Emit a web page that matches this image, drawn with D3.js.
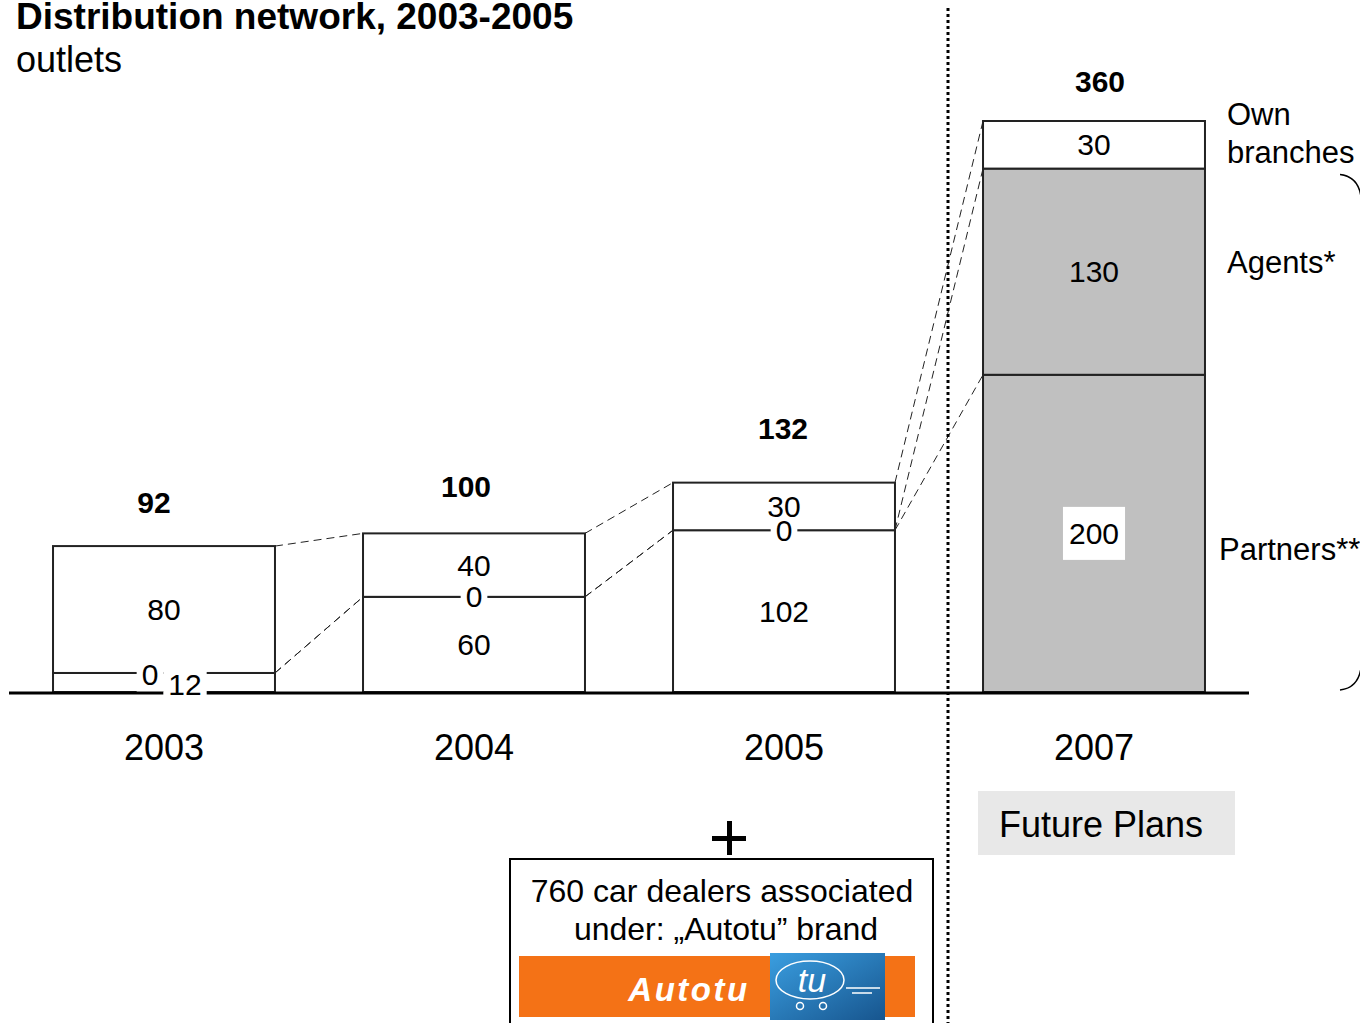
<!DOCTYPE html>
<html>
<head>
<meta charset="utf-8">
<script src="https://cdn.jsdelivr.net/npm/d3@7"></script>
<style>
  html, body { margin: 0; padding: 0; background: #fff; overflow: hidden; }
  svg { display: block; font-family: "Liberation Sans", Arial, sans-serif; }
</style>
</head>
<body>
<svg id="chart" width="1360" height="1023"></svg>
<script>
// Outlets by channel, 2003-2005 actuals and 2007 plan
const years = ["2003", "2004", "2005", "2007"];
const partners = [12, 60, 102, 200];
const agents = [0, 0, 0, 130];
const ownBranches = [80, 40, 30, 30];
const totals = [92, 100, 132, 360];
const plannedYears = ["2007"];
const seriesKeys = ["partners", "agents", "own"];
const seriesLabels = ["Partners**", "Agents*", "Own branches"];

const rows = years.map((y, i) => ({ year: y, partners: partners[i], agents: agents[i], own: ownBranches[i], total: totals[i] }));

const svg = d3.select("#chart");
const W = 1360, H = 1023;

const x = d3.scaleBand().domain(years).range([9, 1249]).paddingInner(0.284).paddingOuter(0.142);
const y = d3.scaleLinear().domain([0, 360]).range([692, 121]);

// hand-placed nudges for the total labels above each bar
const totalNudge = [[-10, -33], [-8, -36], [-1, -44], [6, -29]];

const stacked = d3.stack().keys(seriesKeys)(rows);

// Title
svg.append("text").attr("x", 16).attr("y", 29).attr("font-size", 37).attr("font-weight", "bold")
  .text("Distribution network, 2003-2005");
svg.append("text").attr("x", 16).attr("y", 72).attr("font-size", 36).text("outlets");

// Dashed connectors between consecutive bars, one per cumulative boundary
const connectors = svg.append("g").attr("fill", "none").attr("stroke", "#222")
  .attr("stroke-width", 1).attr("stroke-dasharray", "8,5");
for (let i = 0; i < years.length - 1; i++) {
  const x0 = x(years[i]) + x.bandwidth();
  const x1 = x(years[i + 1]);
  stacked.forEach(layer => {
    connectors.append("line")
      .attr("x1", x0).attr("y1", y(layer[i][1]))
      .attr("x2", x1).attr("y2", y(layer[i + 1][1]));
  });
}

// Bars
const isPlanned = yr => plannedYears.includes(yr);
const bars = svg.append("g");
stacked.forEach(layer => {
  bars.selectAll(null).data(layer).enter().append("rect")
    .attr("x", d => x(d.data.year))
    .attr("width", x.bandwidth())
    .attr("y", d => y(d[1]))
    .attr("height", d => y(d[0]) - y(d[1]))
    .attr("fill", d => (isPlanned(d.data.year) && layer.key !== "own") ? "#c0c0c0" : "#ffffff")
    .attr("stroke", "#222")
    .attr("stroke-width", 2);
});

// Baseline
svg.append("line").attr("x1", x.range()[0]).attr("x2", x.range()[1])
  .attr("y1", y(0) + 1).attr("y2", y(0) + 1)
  .attr("stroke", "#000").attr("stroke-width", 3);

// Segment value labels
const labelG = svg.append("g");
function addLabel(cx, cy, txt, bg, padX, padY) {
  const g = labelG.append("g");
  const t = g.append("text").attr("x", cx).attr("y", cy).attr("text-anchor", "middle")
    .attr("dominant-baseline", "central").attr("font-size", 30).text(txt);
  if (bg) {
    const b = t.node().getBBox();
    g.insert("rect", "text").attr("x", b.x - padX).attr("y", b.y - padY)
      .attr("width", b.width + 2 * padX).attr("height", b.height + 2 * padY).attr("fill", "#fff");
  }
}
years.forEach((yr, i) => {
  const cx = x(yr) + x.bandwidth() / 2;
  // detect a zero channel sitting on top of a thin segment
  const zeroIdx = stacked.findIndex(l => l[i][1] - l[i][0] === 0);
  const crowded = zeroIdx > 0 && (y(stacked[zeroIdx - 1][i][0]) - y(stacked[zeroIdx - 1][i][1])) < 30;
  stacked.forEach((layer, k) => {
    const d = layer[i];
    const v = d[1] - d[0];
    if (v === 0) {
      addLabel(cx + (crowded ? -14 : 0), y(d[0]) + (crowded ? 2 : 0), "0", true, 5, 0);
    } else {
      const mid = (y(d[0]) + y(d[1])) / 2;
      const planned = isPlanned(yr) && layer.key !== "own";
      const bg = layer.key === "partners";
      const dx = (crowded && k === zeroIdx - 1) ? 21 : 0;
      addLabel(cx + dx, mid + (crowded && k === zeroIdx - 1 ? 2 : 0), String(v), bg, planned ? 6 : 5, planned ? 10 : 1);
    }
  });
  // total above bar
  svg.append("text").attr("x", cx + totalNudge[i][0]).attr("y", y(totals[i]) + totalNudge[i][1])
    .attr("text-anchor", "middle").attr("font-size", 30).attr("font-weight", "bold")
    .text(totals[i]);
  // year label
  svg.append("text").attr("x", cx).attr("y", 760).attr("text-anchor", "middle")
    .attr("font-size", 36).text(yr);
});

// Channel names beside the planned bar
const last = years.length - 1;
const mids = stacked.map(l => (y(l[last][0]) + y(l[last][1])) / 2);
const legendX = x(years[last]) + x.bandwidth() + 22;
svg.append("text").attr("x", legendX).attr("y", mids[0] + 27).attr("font-size", 31).attr("dx", -8).text(seriesLabels[0]);
svg.append("text").attr("x", legendX).attr("y", mids[1] + 1).attr("font-size", 31).text(seriesLabels[1]);
const ownParts = seriesLabels[2].split(" ");
svg.append("text").attr("x", legendX).attr("y", mids[2] - 20).attr("font-size", 31).text(ownParts[0]);
svg.append("text").attr("x", legendX).attr("y", mids[2] + 18).attr("font-size", 31).text(ownParts[1]);

// Brace grouping agents and partners
const bTop = y(stacked[1][last][1]) + 6, bBot = y(0) - 2;
svg.append("path")
  .attr("d", `M1340,${bTop} Q1358,${bTop + 2} 1361,${bTop + 22} L1361,${bBot - 22} Q1358,${bBot - 2} 1340,${bBot}`)
  .attr("fill", "none").attr("stroke", "#000").attr("stroke-width", 1.5);

// Divider between actuals and plan
svg.append("line").attr("x1", 948).attr("x2", 948).attr("y1", 8).attr("y2", H)
  .attr("stroke", "#000").attr("stroke-width", 3).attr("stroke-dasharray", "3,3");

// Future Plans tag
svg.append("rect").attr("x", 978).attr("y", 791).attr("width", 257).attr("height", 64).attr("fill", "#e8e8e8");
svg.append("text").attr("x", 999).attr("y", 837).attr("font-size", 36).text("Future Plans");

// Plus sign
svg.append("path").attr("d", "M712,838.5 H746 M729.5,821 V855").attr("stroke", "#000").attr("stroke-width", 5);

// Associated dealers box
svg.append("rect").attr("x", 510).attr("y", 859).attr("width", 423).attr("height", 180)
  .attr("fill", "#fff").attr("stroke", "#000").attr("stroke-width", 2);
svg.append("text").attr("x", 722).attr("y", 902).attr("text-anchor", "middle").attr("font-size", 32)
  .text("760 car dealers associated");
svg.append("text").attr("x", 726).attr("y", 940).attr("text-anchor", "middle").attr("font-size", 32)
  .text("under: \u201EAutotu\u201D brand");

// Autotu logo
const defs = svg.append("defs");
const grad = defs.append("linearGradient").attr("id", "logoBlue").attr("x1", 0).attr("y1", 0).attr("x2", 1).attr("y2", 1);
grad.append("stop").attr("offset", "0%").attr("stop-color", "#3a9ee0");
grad.append("stop").attr("offset", "100%").attr("stop-color", "#17558e");
svg.append("rect").attr("x", 519).attr("y", 956).attr("width", 396).attr("height", 61).attr("fill", "#f47216");
svg.append("rect").attr("x", 770).attr("y", 953).attr("width", 115).attr("height", 67).attr("fill", "url(#logoBlue)");
svg.append("text").attr("x", 689).attr("y", 1001).attr("text-anchor", "middle").attr("font-size", 33)
  .attr("font-weight", "bold").attr("font-style", "italic").attr("fill", "#fff").attr("letter-spacing", 2.5).text("Autotu");
svg.append("ellipse").attr("cx", 810).attr("cy", 980).attr("rx", 34).attr("ry", 19)
  .attr("fill", "none").attr("stroke", "#fff").attr("stroke-width", 1.5);
svg.append("text").attr("x", 812).attr("y", 992).attr("text-anchor", "middle").attr("font-size", 34)
  .attr("font-style", "italic").attr("fill", "#fff").text("tu");
svg.append("path").attr("d", "M846,988 H880 M852,993 H872").attr("stroke", "#fff").attr("stroke-width", 1.5);
svg.append("circle").attr("cx", 800).attr("cy", 1006).attr("r", 3.5).attr("fill", "none").attr("stroke", "#fff").attr("stroke-width", 1.5);
svg.append("circle").attr("cx", 823).attr("cy", 1006).attr("r", 3.5).attr("fill", "none").attr("stroke", "#fff").attr("stroke-width", 1.5);
</script>
</body>
</html>
